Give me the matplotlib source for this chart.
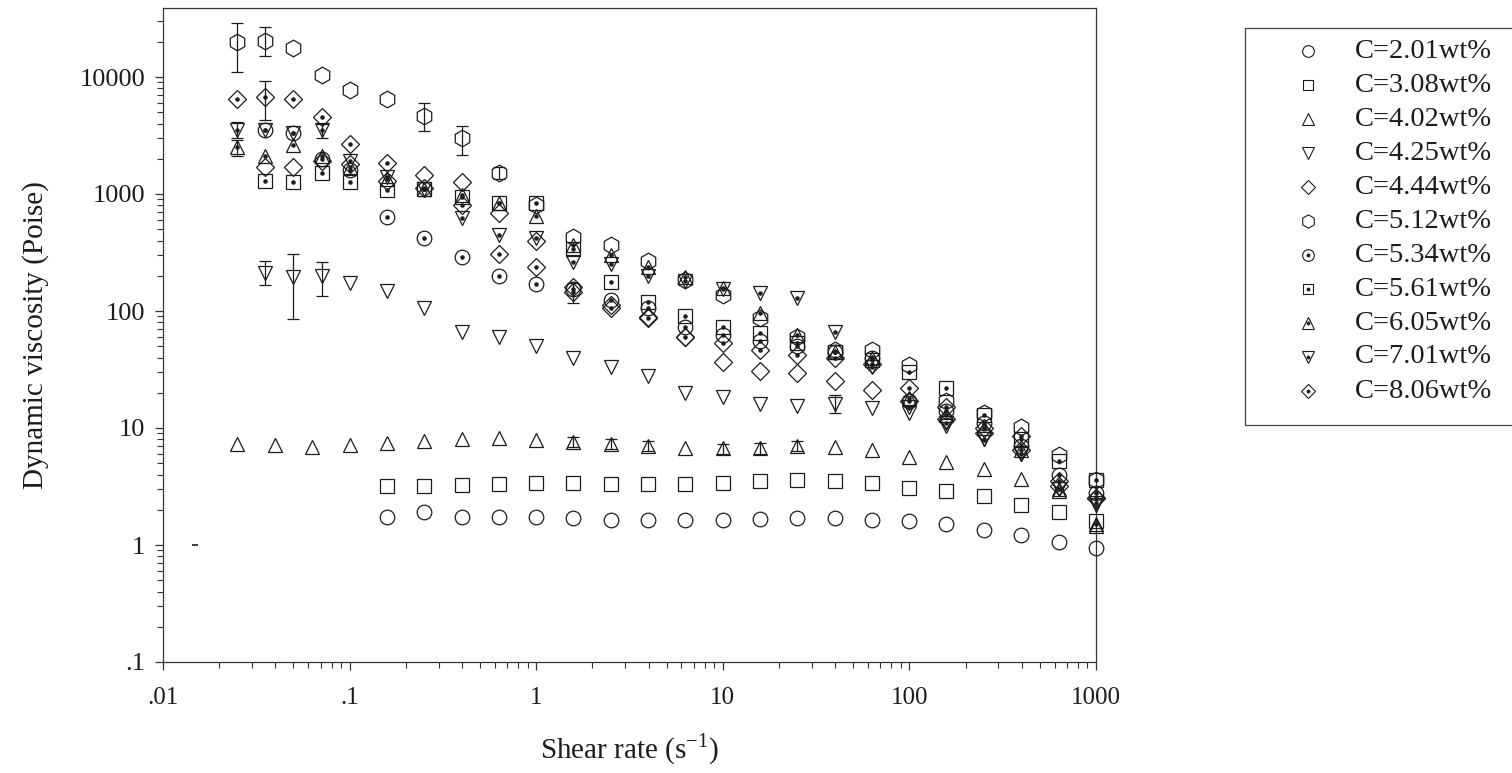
import matplotlib
matplotlib.use("Agg")
import matplotlib.pyplot as plt
from matplotlib.lines import Line2D
from matplotlib.patches import Rectangle
from matplotlib.ticker import FixedLocator, FixedFormatter, LogLocator, NullFormatter

# ---------------- data ----------------
shear_main = [0.025, 0.0354, 0.05, 0.0707, 0.1, 0.158, 0.251, 0.398, 0.631, 1.0,
              1.58, 2.51, 3.98, 6.31, 10.0, 15.8, 25.1, 39.8, 63.1, 100.0,
              158.0, 251.0, 398.0, 631.0, 1000.0]
shear_402 = [0.025, 0.0398, 0.0631, 0.1, 0.158, 0.251, 0.398, 0.631, 1.0,
             1.58, 2.51, 3.98, 6.31, 10.0, 15.8, 25.1, 39.8, 63.1, 100.0,
             158.0, 251.0, 398.0, 631.0, 1000.0]

labels = ["C=2.01wt%", "C=3.08wt%", "C=4.02wt%", "C=4.25wt%", "C=4.44wt%",
          "C=5.12wt%", "C=5.34wt%", "C=5.61wt%", "C=6.05wt%", "C=7.01wt%",
          "C=8.06wt%"]

visc_201 = [1.75, 1.9, 1.75, 1.75, 1.75, 1.7, 1.65, 1.65, 1.65, 1.65, 1.68, 1.7,
            1.7, 1.65, 1.6, 1.5, 1.35, 1.22, 1.06, 0.94]
visc_308 = [3.2, 3.2, 3.25, 3.3, 3.4, 3.4, 3.35, 3.35, 3.35, 3.4, 3.5, 3.6, 3.5,
            3.4, 3.05, 2.9, 2.6, 2.2, 1.9, 1.6]
visc_402 = [7.3, 7.1, 6.9, 7.2, 7.5, 7.8, 8.0, 8.2, 7.9, 7.6, 7.3, 7.0, 6.7, 6.7,
            6.7, 7.0, 6.9, 6.5, 5.65, 5.1, 4.45, 3.7, 2.9, 1.45]
visc_425 = [210, 195, 200, 173, 148, 106, 66, 60, 50, 40, 33, 28, 20, 18.4, 16,
            15.5, 16, 14.8, 13.5, 10.5, 8.0, 6.0, 3.0, 2.2]
visc_444 = [1700, 1700, 1900, 1800, 1300, 1450, 1260, 690, 400, 160, 112, 88, 60,
            36.6, 31, 29.5, 25, 21, 17, 12, 9, 6.5, 3.2, 2.5]
visc_512 = [20000, 20500, 17800, 10400, 7700, 6500, 4650, 3000, 1520, 800, 430,
            370, 265, 185, 137, 87, 60, 46, 46, 34.5, 17, 13.4, 10.2, 5.9, 3.6]
visc_534 = [3500, 3300, 2000, 1600, 640, 420, 290, 200, 170, 155, 125, 106, 73,
            62, 55, 50, 45, 40, 17, 14, 11, 7, 4, 2.8]
visc_561 = [1300, 1270, 1500, 1270, 1080, 1100, 950, 840, 830, 340, 178, 120, 90,
            73, 65, 53, 45, 38, 30, 22, 13, 8, 5.2, 3.6]
visc_605 = [2500, 2100, 2600, 2100, 1700, 1350, 1100, 990, 830, 650, 370, 300,
            240, 195, 158, 96, 62, 45, 40, 18, 13, 10, 6.5, 3.0, 1.5]
visc_701 = [3500, 3500, 3300, 3500, 1900, 1400, 1100, 620, 445, 420, 260, 250,
            200, 180, 155, 142, 130, 66, 33, 15, 11, 8, 6, 3.0, 2.3]
visc_806 = [6500, 6800, 6500, 4550, 2700, 1840, 1130, 800, 310, 240, 146, 106,
            87, 60, 53, 46, 42, 40, 35, 22, 15, 10, 8.5, 3.5, 2.5]

# error bars: (shear rate, lower, upper)
err_402_x = [1.58, 2.51, 3.98, 10.0, 15.8, 25.1]
err_402_lo = [6.9, 6.6, 6.3, 6.0, 6.0, 6.3]
err_402_hi = [8.3, 8.0, 7.7, 7.3, 7.4, 7.7]
err_425_x = [0.0354, 0.05, 0.0707, 39.8]
err_425_lo = [167, 85, 134, 13.5]
err_425_hi = [270, 305, 262, 19]
err_512_x = [0.025, 0.0354, 0.251, 0.398, 0.631]
err_512_lo = [11000, 15000, 3450, 2150, 1350]
err_512_hi = [29000, 27000, 6000, 3800, 1700]
err_605_x = [0.025]
err_605_lo = [2100]
err_605_hi = [2900]
err_701_x = [0.025, 0.0707]
err_701_lo = [3000, 3000]
err_701_hi = [4100, 4000]
err_806_x = [0.0354, 1.58]
err_806_lo = [4300, 117]
err_806_hi = [9300, 175]

stray_x = [0.0148]
stray_y = [1.0]

xtick_vals = [0.01, 0.1, 1, 10, 100, 1000]
xtick_labels = [".01", ".1", "1", "10", "100", "1000"]
ytick_vals = [0.1, 1, 10, 100, 1000, 10000]
ytick_labels = [".1", "1", "10", "100", "1000", "10000"]

# ---------------- styling ----------------
W, H = 1512, 773
plt.rcParams['font.family'] = ['Liberation Serif', 'DejaVu Serif']
plt.rcParams['mathtext.fontset'] = 'custom'
plt.rcParams['mathtext.rm'] = 'Liberation Serif'

INK = '#1c1c1c'

series = [
    (shear_main[5:], visc_201, 'o', False, 10.5, None),
    (shear_main[5:], visc_308, 's', False, 9.5, None),
    (shear_402, visc_402, '^', False, 10.5, (err_402_x, err_402_lo, err_402_hi)),
    (shear_main[1:], visc_425, 'v', False, 10.5, (err_425_x, err_425_lo, err_425_hi)),
    (shear_main[1:], visc_444, 'D', False, 9.5, None),
    (shear_main, visc_512, 'h', False, 12, (err_512_x, err_512_lo, err_512_hi)),
    (shear_main[1:], visc_534, 'o', True, 10.5, None),
    (shear_main[1:], visc_561, 's', True, 9.5, None),
    (shear_main, visc_605, '^', True, 10.5, (err_605_x, err_605_lo, err_605_hi)),
    (shear_main, visc_701, 'v', True, 10.5, (err_701_x, err_701_lo, err_701_hi)),
    (shear_main, visc_806, 'D', True, 9.5, (err_806_x, err_806_lo, err_806_hi)),
]

fig = plt.figure(figsize=(W / 100, H / 100), dpi=100)
L, R, T, B = 163, 1096, 8, 662
ax = fig.add_axes([L / W, 1 - B / H, (R - L) / W, (B - T) / H])
ax.set_xscale('log')
ax.set_yscale('log')
ax.set_xlim(0.01, 1000)
ax.set_ylim(0.1, 10 ** ((545 - 8) / 117.0))

for xs, ys, mk, dotted, ms, err in series:
    if err is not None:
        ex, elo, ehi = err
        ey = [ys[xs.index(v)] for v in ex]
        lower = [a - b for a, b in zip(ey, elo)]
        upper = [b - a for a, b in zip(ey, ehi)]
        ax.errorbar(ex, ey, yerr=[lower, upper], fmt='none', ecolor=INK,
                    elinewidth=0.9, capsize=4.5, capthick=0.9, zorder=2)
    ax.plot(xs, ys, linestyle='none', marker=mk, ms=ms, mfc='none',
            mec=INK, mew=0.9, zorder=3, clip_on=False)
    if dotted:
        ax.plot(xs, ys, linestyle='none', marker='.', ms=4.5, color=INK,
                zorder=4, clip_on=False)

ax.plot(stray_x, stray_y, linestyle='none', marker='_', ms=4, mew=1.2, color=INK)

for sp in ax.spines.values():
    sp.set_linewidth(0.9)
    sp.set_color('#333333')

ax.xaxis.set_major_locator(FixedLocator(xtick_vals))
ax.xaxis.set_major_formatter(FixedFormatter(xtick_labels))
ax.yaxis.set_major_locator(FixedLocator(ytick_vals))
ax.yaxis.set_major_formatter(FixedFormatter(ytick_labels))
ax.xaxis.set_minor_locator(LogLocator(base=10, subs=(2, 3, 4, 5, 6, 7, 8, 9), numticks=20))
ax.yaxis.set_minor_locator(LogLocator(base=10, subs=(2, 3, 4, 5, 6, 7, 8, 9), numticks=20))
ax.xaxis.set_minor_formatter(NullFormatter())
ax.yaxis.set_minor_formatter(NullFormatter())
ax.tick_params(which='both', direction='out', top=False, right=False, color='#333333')
ax.tick_params(which='major', length=6, width=0.9)
ax.tick_params(which='minor', length=4, width=0.8)
ax.tick_params(axis='y', which='major', labelsize=19, pad=7, labelcolor=INK)
ax.tick_params(axis='x', which='major', labelsize=18, pad=12, labelcolor=INK)

ax.set_xlabel("Shear rate (s$^{\\mathregular{-1}}$)", fontsize=21, color=INK, labelpad=16)
ax.set_ylabel("Dynamic viscosity (Poise)", fontsize=21, color=INK, labelpad=22)

# ---------------- legend (drawn in figure pixels) ----------------
def fx(px):
    return px / W

def fy(py):
    return 1 - py / H

fig.add_artist(Rectangle((fx(1245), fy(425)), fx(1540) - fx(1245), fy(28) - fy(425),
                         transform=fig.transFigure, fill=False, lw=0.9,
                         edgecolor='#444444', clip_on=False))
for i, ((xs, ys, mk, dotted, ms, err), lab) in enumerate(zip(series, labels)):
    yy = 51 + 34 * i
    fig.add_artist(Line2D([fx(1308)], [fy(yy)], transform=fig.transFigure,
                          linestyle='none', marker=mk, ms=ms * 0.8, mfc='none',
                          mec=INK, mew=0.8))
    if dotted:
        fig.add_artist(Line2D([fx(1308)], [fy(yy)], transform=fig.transFigure,
                              linestyle='none', marker='.', ms=3.5, color=INK))
    fig.text(fx(1355), fy(yy), lab, fontsize=20.5, color=INK, va='center', ha='left')

fig.savefig("out.png", dpi=100)
